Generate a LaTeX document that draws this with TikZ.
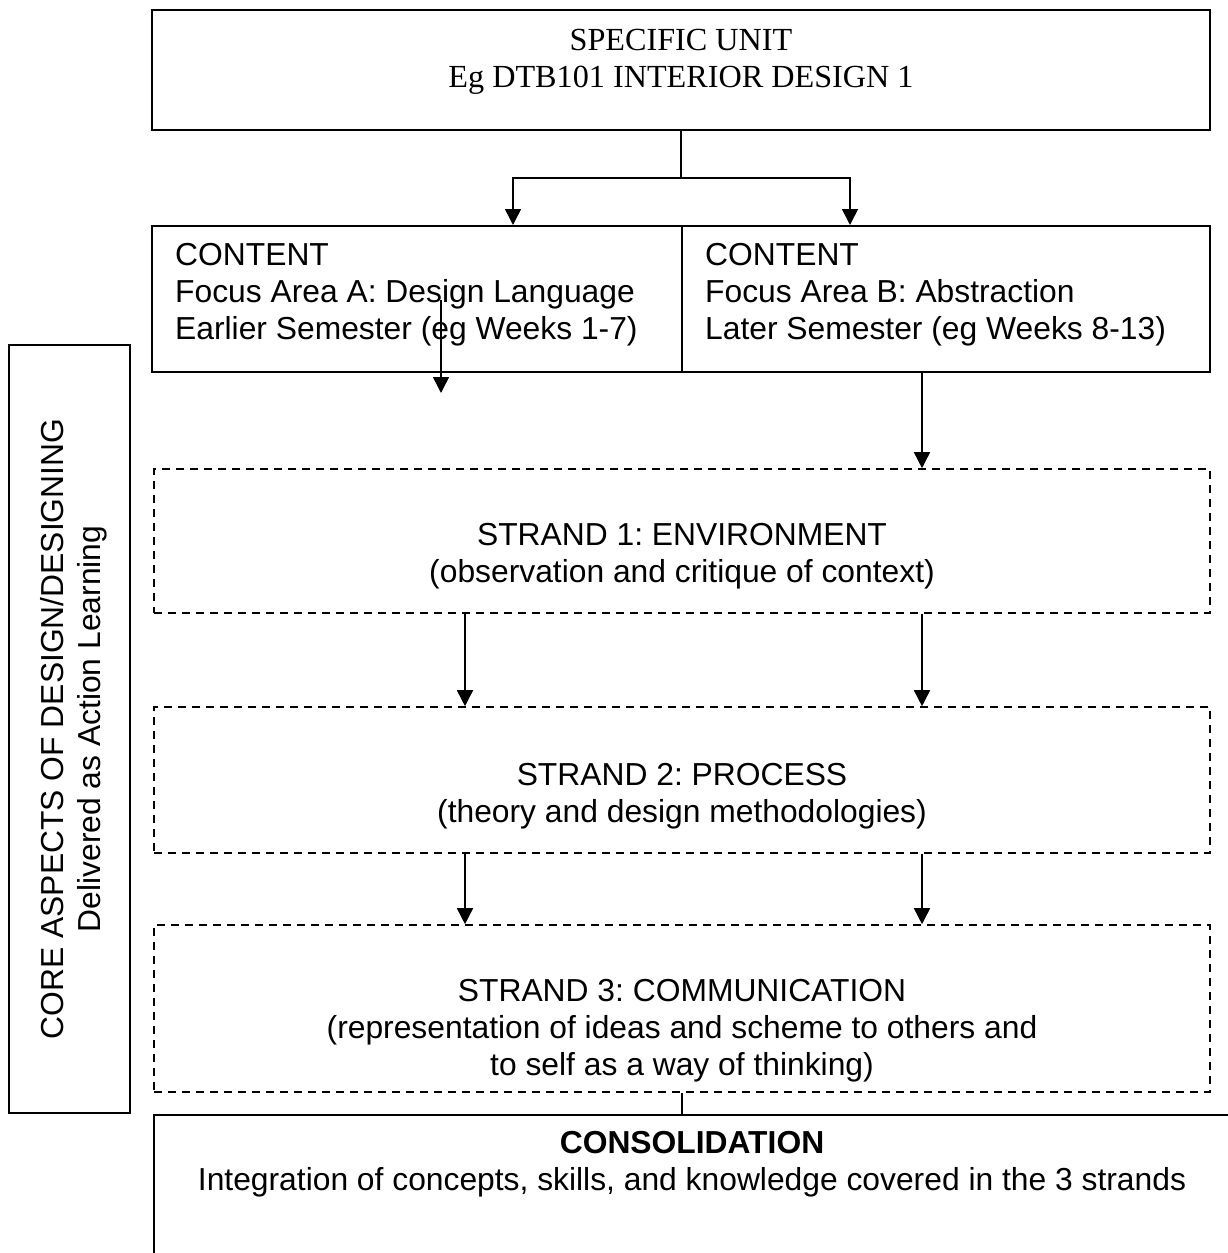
\documentclass[tikz,border=0pt]{standalone}
\usepackage{fontspec}
\setmainfont{Liberation Sans}
\newfontfamily\unitfont{Liberation Serif}
\usetikzlibrary{arrows.meta}
\frenchspacing

\begin{document}
\begin{tikzpicture}[x=1pt,y=-1pt,
    box/.style={draw,line width=2pt,inner sep=0pt},
    strandbox/.style={draw,line width=1.6pt,dash pattern=on 8pt off 6pt,inner sep=0pt},
    txt/.style={inner sep=0pt,font=\fontsize{31.8}{37}\selectfont},
    arr/.style={line width=1.6pt,-{Triangle[length=16pt,width=16pt]}}]
            \useasboundingbox (0,0) rectangle (1228,1253);
            \node[box,minimum width=1058pt,minimum height=120pt] (unit) at (681,70) {};
            \node[txt,align=center,anchor=base,font=\unitfont\fontsize{32.2}{37}\selectfont] (unittext) at (681,87) {SPECIFIC UNIT\\Eg DTB101 INTERIOR DESIGN 1};
            \node[box,minimum width=530pt,minimum height=146pt] (contA) at (417,299) {};
            \node[box,minimum width=528pt,minimum height=146pt] (contB) at (946,299) {};
            \node[txt,align=left,anchor=base west] (contAtext) at (175,339) {CONTENT\\Focus Area A: Design Language\\Earlier Semester (eg Weeks 1-7)};
            \node[txt,align=left,anchor=base west] (contBtext) at (705,339) {CONTENT\\Focus Area B: Abstraction\\Later Semester (eg Weeks 8-13)};
            \node[strandbox,minimum width=1056pt,minimum height=144pt] (s1) at (682,541) {};
            \node[strandbox,minimum width=1056pt,minimum height=146pt] (s2) at (682,780) {};
            \node[strandbox,minimum width=1056pt,minimum height=167pt] (s3) at (682,1008.5) {};
            \node[txt,align=center,anchor=base] (s1text) at (682,582) {STRAND 1: ENVIRONMENT\\(observation and critique of context)};
            \node[txt,align=center,anchor=base] (s2text) at (682,822) {STRAND 2: PROCESS\\(theory and design methodologies)};
            \node[txt,align=center,anchor=base] (s3text) at (682,1075) {STRAND 3: COMMUNICATION\\(representation of ideas and scheme to others and\\to self as a way of thinking)};
            \node[box,minimum width=121pt,minimum height=768pt] (core) at (69.5,729) {};
            \node[txt,align=center,rotate=90,anchor=base] (coretext) at (100,729) {CORE ASPECTS OF DESIGN/DESIGNING\\Delivered as Action Learning};
            \coordinate (consNE) at (1228,1115);
            \coordinate (consSW) at (154,1253);
            \draw[line width=2pt] (consNE) -- (consNE -| consSW) -- (consSW);
            \node[txt,align=center,anchor=base] (constext) at (692,1190) {\textbf{CONSOLIDATION}\\Integration of concepts, skills, and knowledge covered in the 3 strands};
            \coordinate (split) at (681,178);
            \coordinate (colA) at (513,0);
            \coordinate (colB) at (850,0);
            \coordinate (colL) at (465,0);
            \coordinate (colR) at (922,0);
            \coordinate (driftTop) at (441,300);
            \coordinate (driftEnd) at (441,393);
            \draw[line width=1.6pt] (unit.south) -- (split);
            \draw[arr] (split) -| (colA |- contA.north);
            \draw[arr] (split) -| (colB |- contB.north);
            \draw[arr] (driftTop) -- (driftEnd);
            \draw[arr] (contB.south -| colR) -- (s1.north -| colR);
            \draw[arr] (s1.south -| colL) -- (s2.north -| colL);
            \draw[arr] (s1.south -| colR) -- (s2.north -| colR);
            \draw[arr] (s2.south -| colL) -- (s3.north -| colL);
            \draw[arr] (s2.south -| colR) -- (s3.north -| colR);
            \draw[line width=1.6pt] (s3.south) -- (s3.south |- consNE);
        \end{tikzpicture}
\end{document}
